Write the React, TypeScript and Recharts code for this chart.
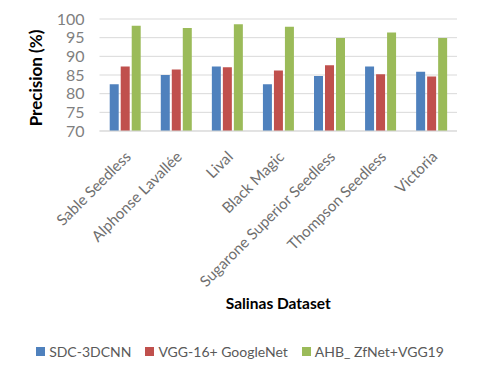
import { Bar, BarChart, CartesianGrid, Legend, XAxis, YAxis } from 'recharts';

const varieties = [
  'Sable Seedless',
  'Alphonse Lavallée',
  'Lival',
  'Black Magic',
  'Sugarone Superior Seedless',
  'Thompson Seedless',
  'Victoria',
];
const sdc3dcnn = [82.5, 85.0, 87.3, 82.5, 84.7, 87.3, 85.9];
const vggGoogleNet = [87.3, 86.5, 87.1, 86.2, 87.6, 85.2, 84.6];
const ahbZfNetVgg = [98.2, 97.6, 98.6, 97.9, 94.9, 96.4, 94.9];
const yTicks = [70, 75, 80, 85, 90, 95, 100];

const seriesNames = ['SDC-3DCNN', 'VGG-16+ GoogleNet', 'AHB_ ZfNet+VGG19'];
const seriesColors = ['#4f81bd', '#c0504d', '#9bbb59'];

const FONT = 'Lato, "Liberation Sans", sans-serif';

const data = varieties.map((name, i) => ({
  name,
  sdc: sdc3dcnn[i],
  vgg: vggGoogleNet[i],
  ahb: ahbZfNetVgg[i],
}));

function VarietyTick({ x, y, payload }: any) {
  return (
    <text
      transform={`translate(${x + 3},${y + 15}) rotate(-45)`}
      textAnchor="end"
      dy="0.35em"
      fontSize={15.2}
      fill="#6f6f6f"
      fontFamily={FONT}
    >
      {payload.value}
    </text>
  );
}

function YTitle({ viewBox }: any) {
  const cx = viewBox.x + 35;
  const cy = viewBox.y + viewBox.height / 2 + 3;
  return (
    <text
      transform={`translate(${cx},${cy}) rotate(-90)`}
      textAnchor="middle"
      dominantBaseline="central"
      fontSize={17}
      fontWeight="bold"
      fill="#000"
      fontFamily={FONT}
    >
      Precision (%)
    </text>
  );
}

function LegendRow() {
  return (
    <div
      style={{
        width: 480,
        height: 34,
        paddingTop: 6,
        boxSizing: 'border-box',
        display: 'flex',
        justifyContent: 'center',
        alignItems: 'center',
        gap: 14,
        fontFamily: FONT,
        fontSize: 14,
        color: '#595959',
      }}
    >
      {seriesNames.map((name, i) => (
        <span key={name} style={{ display: 'flex', alignItems: 'center' }}>
          <span
            style={{ width: 9, height: 9, background: seriesColors[i], marginRight: 4, display: 'inline-block' }}
          />
          {name}
        </span>
      ))}
    </div>
  );
}

export default function App() {
  return (
    <div style={{ position: 'absolute', left: 0, top: 0, background: '#fff' }}>
      <BarChart
        width={480}
        height={365}
        data={data}
        margin={{ top: 19, right: 23, left: 0, bottom: 0 }}
        barCategoryGap="20%"
        barGap={2}
      >
        <CartesianGrid vertical={false} stroke="#d9d9d9" />
        <XAxis
          dataKey="name"
          interval={0}
          height={200}
          tick={<VarietyTick />}
          tickLine={false}
          axisLine={{ stroke: '#d9d9d9' }}
          label={{
            value: 'Salinas Dataset',
            position: 'insideBottom',
            offset: 22,
            style: { fontSize: 15.5, fontWeight: 'bold', fill: '#000', fontFamily: FONT },
          }}
        />
        <YAxis
          width={99.5}
          domain={[70, 100]}
          ticks={yTicks}
          interval={0}
          allowDataOverflow
          tickLine={false}
          axisLine={false}
          tickSize={0}
          tickMargin={15}
          tick={{ fontSize: 16, fill: '#7f7f7f', fontFamily: FONT }}
          label={<YTitle />}
        />
        <Legend verticalAlign="bottom" height={34} wrapperStyle={{ left: 0, width: 480 }} content={<LegendRow />} />
        <Bar dataKey="sdc" name={seriesNames[0]} fill={seriesColors[0]} isAnimationActive={false} />
        <Bar dataKey="vgg" name={seriesNames[1]} fill={seriesColors[1]} isAnimationActive={false} />
        <Bar dataKey="ahb" name={seriesNames[2]} fill={seriesColors[2]} isAnimationActive={false} />
      </BarChart>
    </div>
  );
}
